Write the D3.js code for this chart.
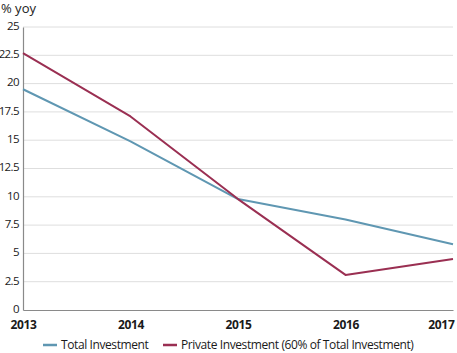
<!DOCTYPE html>
<html>
<head>
<meta charset="utf-8">
<script src="https://cdn.jsdelivr.net/npm/d3@7"></script>
<style>
  html, body { margin: 0; padding: 0; background: #fff; }
  svg { display: block; font-family: "Open Sans", "Noto Sans", sans-serif; }
</style>
</head>
<body>
<svg id="chart" width="457" height="353"></svg>
<script>
// Investment growth, % year on year
const years = ["2013", "2014", "2015", "2016", "2017"];
const totalInvestment = [19.5, 14.9, 9.8, 8.0, 5.8];
const privateInvestment = [22.7, 17.1, 9.8, 3.1, 4.5];
const yTicks = [0, 2.5, 5, 7.5, 10, 12.5, 15, 17.5, 20, 22.5, 25];
const seriesNames = ["Total Investment", "Private Investment (60% of Total Investment)"];
const seriesColors = ["#5f97b2", "#9a2f52"];

const svg = d3.select("#chart");
const margin = { left: 23, right: 4, top: 27, bottom: 43 };
const W = 457, H = 353;

const x = d3.scalePoint().domain(years).range([margin.left, W - margin.right]);
const y = d3.scaleLinear().domain([0, 25]).range([H - margin.bottom, margin.top]);

// horizontal gridlines
svg.append("g")
  .selectAll("line")
  .data(yTicks.filter(d => d > 0))
  .join("line")
  .attr("x1", margin.left).attr("x2", W - margin.right)
  .attr("y1", d => y(d)).attr("y2", d => y(d))
  .attr("stroke", "#dedede").attr("stroke-width", 1);

// y axis
const yAxis = svg.append("g")
  .attr("transform", `translate(${margin.left},0)`)
  .call(d3.axisLeft(y).tickValues(yTicks).tickSize(0).tickPadding(4)
        .tickFormat(d => String(d)));
yAxis.select(".domain").attr("stroke", "#8a8a8a").attr("stroke-width", 1.2);
yAxis.selectAll("text").attr("font-size", 11.5).attr("fill", "#1a1a1a")
  .attr("letter-spacing", "-0.6px")
  .attr("font-family", "'Open Sans', sans-serif").attr("dy", "0.2em");

// x axis
const xAxis = svg.append("g")
  .attr("transform", `translate(0,${y(0)})`)
  .call(d3.axisBottom(x).tickSize(0).tickPadding(10));
xAxis.select(".domain").attr("stroke", "#8a8a8a").attr("stroke-width", 1.2);
xAxis.selectAll("text").attr("font-size", 12).attr("font-weight", "bold")
  .attr("letter-spacing", "-0.3px")
  .attr("fill", "#1a1a1a").attr("font-family", "'Open Sans', sans-serif");
xAxis.selectAll(".tick").filter(d => d === years[years.length - 1])
  .select("text").attr("text-anchor", "end").attr("dx", 1);

// series lines
const line = d3.line().x((d, i) => x(years[i])).y(d => y(d));
[totalInvestment, privateInvestment].forEach((vals, k) => {
  svg.append("path")
    .datum(vals)
    .attr("fill", "none")
    .attr("stroke", seriesColors[k])
    .attr("stroke-width", 2)
    .attr("stroke-linejoin", "round")
    .attr("d", line);
});

// unit label
svg.append("text")
  .attr("x", 1).attr("y", 13)
  .attr("font-size", 13).attr("fill", "#1a1a1a")
  .text("% yoy");

// legend
const legend = svg.append("g").attr("transform", "translate(0,345)");
const legendX = [43, 163];
seriesNames.forEach((name, k) => {
  const g = legend.append("g").attr("transform", `translate(${legendX[k]},0)`);
  g.append("line").attr("x1", 0).attr("x2", 14).attr("y1", 0).attr("y2", 0)
    .attr("stroke", seriesColors[k]).attr("stroke-width", 2.5);
  g.append("text").attr("x", 18).attr("y", 0).attr("dy", "0.35em")
    .attr("font-size", 12).attr("letter-spacing", "-0.4px")
    .attr("fill", "#1a1a1a").text(name);
});
</script>
</body>
</html>
